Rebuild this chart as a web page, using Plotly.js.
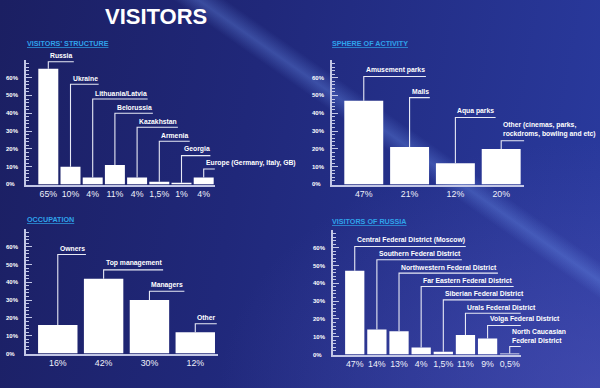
<!DOCTYPE html>
<html><head><meta charset="utf-8">
<script src="https://cdn.plot.ly/plotly-3.0.1.min.js"></script>
<style>
html,body{margin:0;padding:0;background:#1e2470;}
#bg{position:absolute;left:0;top:0;width:600px;height:388px;
background:
 linear-gradient(35deg, rgba(0,0,0,0) 63.0%, rgba(110,150,240,0.34) 65.2%, rgba(0,0,0,0) 67.6%),
 radial-gradient(ellipse at 100% 100%, rgba(90,90,190,0.45) 0%, rgba(0,0,0,0) 45%),
 linear-gradient(100deg,#1b1f62 0%,#20287a 40%,#2a3ba0 100%);}
#chart{position:absolute;left:0;top:0;width:600px;height:388px;}
</style></head>
<body><div id="bg"></div><div id="chart"></div>
<script>
// ---------- DATA ----------
const structCats = ['Russia','Ukraine','Lithuania/Latvia','Belorussia','Kazakhstan','Armenia','Georgia','Europe (Germany, Italy, GB)'];
const structVals = [65,10,4,11,4,1.5,1,4];
const structLabels = ['65%','10%','4%','11%','4%','1,5%','1%','4%'];

const sphereCats = ['Amusement parks','Malls','Aqua parks','Other (cinemas, parks,<br>rockdroms, bowling and etc)'];
const sphereVals = [47,21,12,20];
const sphereLabels = ['47%','21%','12%','20%'];

const occCats = ['Owners','Top management','Managers','Other'];
const occVals = [16,42,30,12];
const occLabels = ['16%','42%','30%','12%'];

const rusCats = ['Central Federal District (Moscow)','Southern Federal District','Northwestern Federal District','Far Eastern Federal District','Siberian Federal District','Urals Federal District','Volga Federal District','North Caucasian<br>Federal District'];
const rusVals = [47,14,13,4,1.5,11,9,0.5];
const rusLabels = ['47%','14%','13%','4%','1,5%','11%','9%','0,5%'];

const yTickVals = [0,10,20,30,40,50,60];
const yTickText = ['0%','10%','20%','30%','40%','50%','60%'];

// ---------- LAYOUT CONFIG ----------
const W = 600, H = 388;
const FONT = '"Liberation Sans", Arial, sans-serif';
const LABEL_SIZE = 6.8;
const AXIS_COL = '#c3c7e6';
const LEAD_COL = '#e8eaf6';
const panels = [
  {cats:structCats, vals:structVals, labels:structLabels, title:"VISITORS' STRUCTURE",
   xpx:[26.1,214.8], ypx:[184.5,59.9], xr:[-1,7.5], bw:0.9,
   levels:[69,56.3,48,40,32.2,24.3,16.2,8.7], tpos:[25,43]},
  {cats:sphereCats, vals:sphereVals, labels:sphereLabels, title:'SPHERE OF ACTIVITY',
   xpx:[331.7,524.1], ypx:[184.5,59.9], xr:[-0.7,3.5], bw:0.85,
   levels:[60.7,48.8,37.6,24.6], tpos:[330,43]},
  {cats:occCats, vals:occVals, labels:occLabels, title:'OCCUPATION',
   xpx:[25.7,218.2], ypx:[353.5,228.9], xr:[-0.7,3.5], bw:0.86,
   levels:[55.6,47,35,16.7], tpos:[25,219]},
  {cats:rusCats, vals:rusVals, labels:rusLabels, title:'VISITORS OF RUSSIA',
   xpx:[332.6,520.8], ypx:[354.5,229.9], xr:[-1,7.5], bw:0.87,
   levels:[60.7,53.2,45.7,38.2,30.7,23.2,16.3,4.5], tpos:[330,221]}
];
const YR = [0,70];
const YLAB_OFFSET = 21; // px from axis line to left edge of y tick labels

const data = [], shapes = [], annotations = [];
const leaderInfo = [];
const layout = {
  width: W, height: H, margin:{l:0,r:0,t:0,b:0},
  paper_bgcolor:'rgba(0,0,0,0)', plot_bgcolor:'rgba(0,0,0,0)',
  showlegend:false, hovermode:false
};

panels.forEach((p, k) => {
  const sfx = k === 0 ? '' : String(k+1);
  const xa = 'x' + sfx, ya = 'y' + sfx;
  const idx = p.vals.map((v,i) => i);
  data.push({type:'bar', x: idx, y: p.vals, width: p.bw, xaxis: xa, yaxis: ya,
    marker:{color:'#ffffff', line:{width:0}}, hoverinfo:'skip'});
  layout['xaxis' + sfx] = {
    domain:[p.xpx[0]/W, p.xpx[1]/W], range:p.xr, anchor: ya,
    tickmode:'array', tickvals: idx, ticktext: p.labels, tickangle:0,
    showline:true, linecolor:AXIS_COL, linewidth:2, ticks:'', showgrid:false, zeroline:false,
    tickfont:{family:FONT, size:8.8, color:'#eef0fa'}, fixedrange:true
  };
  layout['yaxis' + sfx] = {
    domain:[(H-p.ypx[0])/H, (H-p.ypx[1])/H], range:YR, anchor: xa,
    tickmode:'array', tickvals: yTickVals, ticktext: yTickText, showticklabels:false,
    showline:true, linecolor:AXIS_COL, linewidth:2, ticks:'inside', ticklen:6, tickwidth:1, tickcolor:AXIS_COL,
    minor:{tickmode:'linear', tick0:0, dtick:2, ticks:'inside', ticklen:3, tickwidth:1, tickcolor:AXIS_COL, showgrid:false},
    showgrid:false, zeroline:false, fixedrange:true
  };
  yTickVals.forEach((tv, j) => {
    annotations.push({xref:'paper', yref:ya, x:(p.xpx[0]-YLAB_OFFSET)/W, y:tv, xanchor:'left', yanchor:'middle',
      showarrow:false, text:yTickText[j], borderpad:0,
      font:{family:FONT, size:6, weight:'bold', color:'#ffffff'}});
  });
  const pxPerUnit = (p.xpx[1]-p.xpx[0])/(p.xr[1]-p.xr[0]);
  p.cats.forEach((c, i) => {
    const lvl = p.levels[i];
    leaderInfo.push({shapeIdx: shapes.length, annIdx: annotations.length, i, lvl, v: p.vals[i], pxPerUnit});
    shapes.push({type:'path', xref:xa, yref:ya,
      path:`M ${i},${p.vals[i]} L ${i},${lvl}`,
      line:{color:LEAD_COL, width:1.1}});
    annotations.push({xref:xa, yref:ya, x:i, y:lvl, xanchor:'left', yanchor:'bottom', yshift:0.5,
      showarrow:false, align:'left', text:c,
      font:{family:FONT, size:LABEL_SIZE, weight:'bold', color:'#ffffff'}});
  });
  annotations.push({xref:'paper', yref:'paper', x:p.tpos[0]/W, y:1-p.tpos[1]/H, xanchor:'left', yanchor:'middle',
    showarrow:false, text:p.title,
    font:{family:FONT, size:7.2, weight:'bold', color:'#2fa2ea', lineposition:'under'}});
});

annotations.push({xref:'paper', yref:'paper', x:156.5/W, y:1-16.5/H, xanchor:'center', yanchor:'middle',
  showarrow:false, text:'VISITORS',
  font:{family:FONT, size:22, weight:'bold', color:'#ffffff'}});

layout.shapes = shapes;
layout.annotations = annotations;
Plotly.newPlot('chart', data, layout, {staticPlot:true, displayModeBar:false}).then(gd => {
  const newShapes = shapes.map(s => Object.assign({}, s));
  leaderInfo.forEach(L => {
    const g = gd.querySelector(`.annotation[data-index="${L.annIdx}"] text.annotation-text`);
    let w = 0;
    if (g) { try { w = g.getBBox().width; } catch(e) { w = 0; } }
    const len = (w + 3) / L.pxPerUnit;
    newShapes[L.shapeIdx].path = `M ${L.i},${L.v} L ${L.i},${L.lvl} L ${L.i + len},${L.lvl}`;
  });
  return Plotly.relayout(gd, {shapes: newShapes});
});
</script>
</body></html>
